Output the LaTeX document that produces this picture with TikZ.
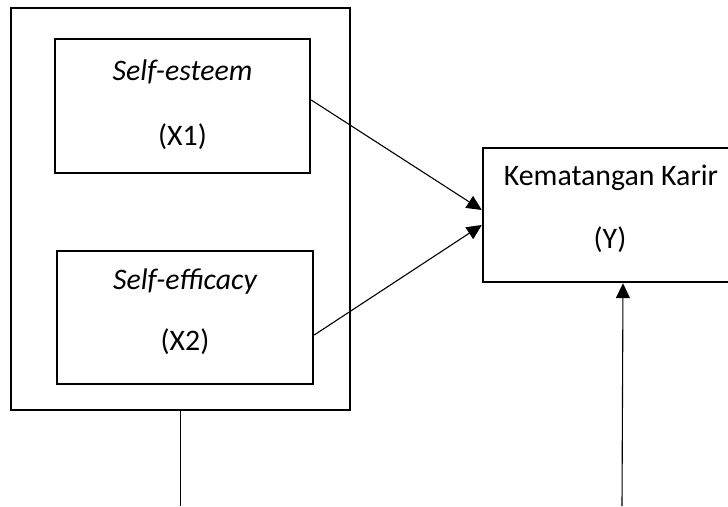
\documentclass[tikz,border=0pt]{standalone}
\usepackage{fontspec}
\setmainfont{Carlito}
\usetikzlibrary{arrows.meta}
\begin{document}
\begin{tikzpicture}[x=1pt,y=-1pt,
  box/.style={draw, line width=2.4pt, minimum width=#1, inner sep=0pt, anchor=center},
  lbl/.style={font=\fontsize{29.8}{34}\selectfont, inner sep=0pt},
  conn/.style={line width=1.1pt},
  arr/.style={conn, -{Triangle[length=15pt,width=14pt]}}]
\clip (0,0) rectangle (728,506);
\node[box=339pt, minimum height=402pt] (outer) at (180.5,209) {};
\node[box=255pt, minimum height=134pt] (x1) at (182.5,106) {};
\node[box=256pt, minimum height=133pt] (x2) at (185,317.5) {};
\node[box=280pt, minimum height=134pt] (yb) at (623,215) {};
\node[lbl] (t1) at (182.5,72) {\itshape Self-esteem};
\node[lbl] (t1b) at (182.5,137) {(X1)};
\node[lbl] (t2) at (185,282) {\itshape Self-efficacy};
\node[lbl] (t2b) at (185,342) {(X2)};
\node[lbl] (ty) at (611,178) {Kematangan Karir};
\node[lbl] (tyb) at (610,240) {(Y)};
\coordinate (b1) at (180.5,506);
\coordinate (b2) at (622,506);
\draw[arr] ([yshift=6pt]x1.east) -- ([yshift=5pt]yb.west);
\draw[arr] ([yshift=-17.5pt]x2.east) -- ([yshift=-10pt]yb.west);
\draw[conn] (outer.south) -- (b1);
\draw[arr] (b2) -- (yb.south);
\end{tikzpicture}
\end{document}
